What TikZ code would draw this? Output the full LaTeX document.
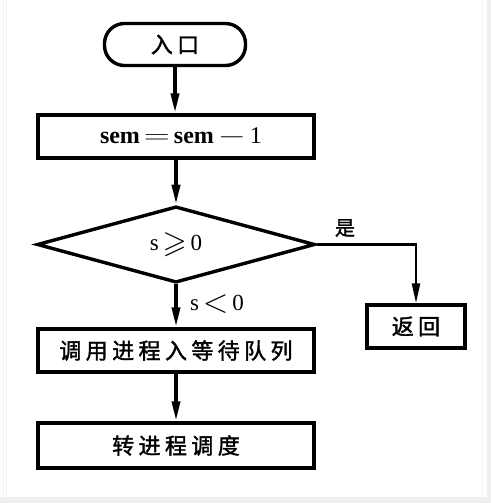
\documentclass[tikz,border=0pt]{standalone}
\usepackage{amssymb}
\usepackage{graphicx}
\usepackage{fontspec}
\setmainfont{Liberation Serif}
\newfontfamily\cjk[LetterSpace=20,FakeBold=1.6]{Noto Sans CJK SC}
\usetikzlibrary{shapes.geometric,arrows.meta}
\definecolor{framegray}{HTML}{EEEEEE}
\newcommand{\bigrel}[1]{\,\raisebox{-0.08em}{\scalebox{1.35}{$#1$}}\,}
\newcommand{\wideop}[1]{\,\scalebox{1.45}[1]{$#1$}\,}
\begin{document}
\begin{tikzpicture}[x=1pt,y=-1pt,
  every node/.style={line width=3.4pt,draw,inner sep=0pt},
  procbox/.style={rectangle,minimum width=276pt,minimum height=43pt,font=\cjk\fontsize{22}{24}\selectfont},
  flow/.style={line width=3.6pt,-{Triangle[length=20pt,width=8pt]}},
  lbl/.style={draw=none,font=\fontsize{23}{25}\selectfont}]
\useasboundingbox (0,0) rectangle (491,503);
\fill[white] (0,0) rectangle (491,503);
\fill[framegray] (487,0) rectangle (491,503);
\fill[framegray] (0,497) rectangle (491,503);
\draw[framegray!70,line width=0.8pt] (3,0) -- (3,497) (6,0) -- (6,497) (482,0) -- (482,497);

\node[rectangle,rounded corners=20pt,minimum width=141pt,minimum height=42pt,font=\cjk\fontsize{22}{24}\selectfont] (start) at (175,44.5) {入口};
\node[procbox,font=\rmfamily\fontsize{24}{26}\selectfont] (b1) at (176,136.5) {\hspace*{10pt}\textbf{sem}\wideop{=}\textbf{sem}\wideop{-}1};
\node[diamond,minimum width=278pt,minimum height=69pt,font=\fontsize{23}{25}\selectfont] (dia) at (176,244.5) {s\bigrel{\geqslant}0};
\node[rectangle,minimum width=98pt,minimum height=43pt,font=\cjk\fontsize{22}{24}\selectfont] (ret) at (416,326.5) {返回};
\node[procbox] (b3) at (176,350.5) {调用进程入等待队列};
\node[procbox,minimum height=45pt] (b4) at (176,445.5) {转进程调度};

\node[lbl,font=\cjk\fontsize{20}{22}\selectfont] (yes) at (345,228) {是};
\node[lbl] (no) at (217,304) {s\bigrel{<}0};

\draw[flow] (start.south) -- (b1.north-|start.south);
\draw[flow] (b1.south-|dia.north) -- (dia.north);
\draw[flow] (dia.south) -- (b3.north);
\draw[flow] (b3.south) -- (b4.north);
\draw[line width=2.4pt,-{Triangle[length=20pt,width=8pt]}] (dia.east) -| (ret.north);
\end{tikzpicture}
\end{document}
